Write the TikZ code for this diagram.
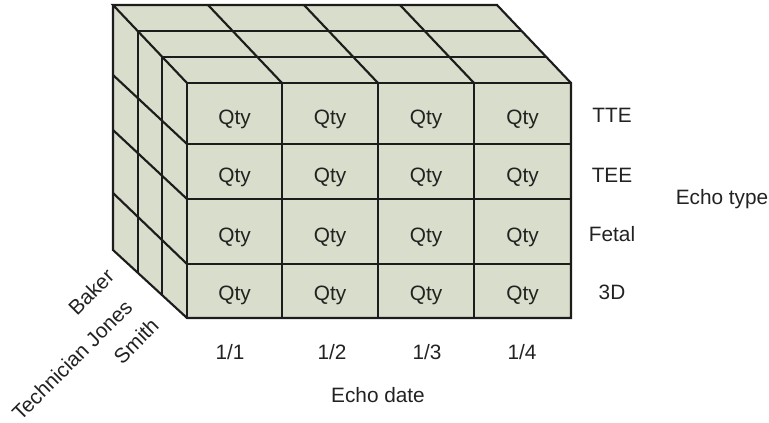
\documentclass[tikz,border=0pt]{standalone}
\usepackage{fontspec}
\setmainfont{Liberation Sans}
\definecolor{cubefill}{RGB}{217,221,203}
\definecolor{edgecol}{RGB}{28,28,28}
\definecolor{txtcol}{RGB}{34,34,34}
\tikzset{
  edge/.style={draw=edgecol, line width=1.6pt},
  lbl/.style={text=txtcol, font=\fontsize{15.6}{18}\selectfont, inner sep=0pt, anchor=base},
  rlbl/.style={text=txtcol, font=\fontsize{15.6}{18}\selectfont, inner sep=0pt, anchor=center, rotate=45}
}
\begin{document}
\begin{tikzpicture}[x=0.75pt, y=-0.75pt]
\useasboundingbox (0,0) rectangle (769,423);
% faces
\fill[cubefill] (113,5) -- (497,5) -- (571,83) -- (187,83) -- cycle;
\fill[cubefill] (113,5) -- (187,83) -- (187,318) -- (113,250) -- cycle;
\fill[cubefill] (187,83) rectangle (571,318);
% top face lines and left face layer lines
\foreach \k in {1,2} {
  \draw[edge] ({187-74*\k/3},{83-26*\k}) -- ({571-74*\k/3},{83-26*\k});
  \draw[edge] ({187-74*\k/3},{83-26*\k}) -- ({187-74*\k/3},{318-68*\k/3});
}
\foreach \c in {282,378,474} \draw[edge] (\c,83) -- ({\c-74},5);
% left face row lines
\foreach \f/\b in {144/75,199/130,264/193} \draw[edge] (187,\f) -- (113,\b);
% front grid
\foreach \c in {282,378,474} \draw[edge] (\c,83) -- (\c,318);
\foreach \f in {144,199,264} \draw[edge] (187,\f) -- (571,\f);
% outlines
\draw[edge, line join=miter] (187,83) -- (113,5) -- (497,5) -- (571,83) -- (571,318) -- (187,318) -- (113,250) -- (113,5);
\draw[edge] (187,83) -- (571,83);
\draw[edge] (187,83) -- (187,318);
% Qty labels
\foreach \c [count=\i] in {234.5,330,426,522.5} {
  \foreach \r [count=\j] in {125,183,243,301} {
    \node[lbl] (q\i\j) at (\c,\r) {Qty};
  }
}
% row labels
\node[lbl] (tte) at (612,123) {TTE};
\node[lbl] (tee) at (612,183) {TEE};
\node[lbl] (fetal) at (612,242) {Fetal};
\node[lbl] (threed) at (612,300) {3D};
\node[lbl] (etype) at (722,205) {Echo type};
% column labels
\node[lbl] (d1) at (230,360) {1/1};
\node[lbl] (d2) at (332,360) {1/2};
\node[lbl] (d3) at (427,360) {1/3};
\node[lbl] (d4) at (522,360) {1/4};
\node[lbl] (edate) at (378,403) {Echo date};
% person labels
\node[rlbl] (baker) at (91,292) {Baker};
\node[rlbl] (jones) at (72,360) {Technician Jones};
\node[rlbl] (smith) at (136,341) {Smith};
\end{tikzpicture}
\end{document}
